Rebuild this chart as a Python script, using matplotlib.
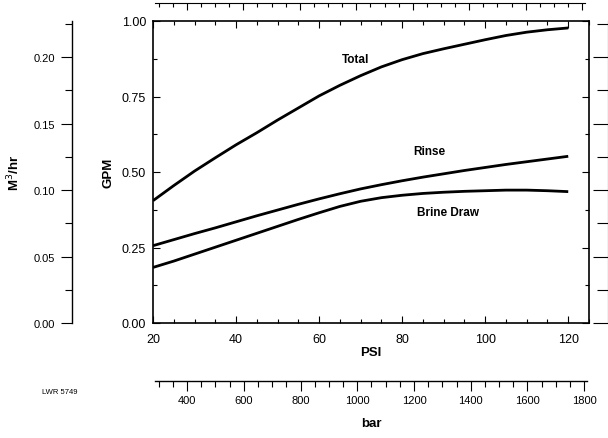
import matplotlib
matplotlib.use("Agg")
import matplotlib.pyplot as plt
from matplotlib.ticker import MultipleLocator, FormatStrFormatter, NullFormatter

plt.rcParams['font.family'] = ['Liberation Sans', 'DejaVu Sans']

psi = [20, 25, 30, 35, 40, 45, 50, 55, 60, 65, 70, 75, 80, 85, 90, 95, 100, 105, 110, 115, 120]
total = [0.405, 0.455, 0.503, 0.547, 0.590, 0.630, 0.672, 0.712, 0.752, 0.787, 0.819,
         0.848, 0.872, 0.892, 0.908, 0.923, 0.938, 0.952, 0.963, 0.971, 0.977]
rinse = [0.256, 0.276, 0.296, 0.315, 0.335, 0.355, 0.374, 0.393, 0.411, 0.428, 0.444,
         0.458, 0.471, 0.483, 0.494, 0.505, 0.515, 0.525, 0.534, 0.543, 0.552]
brine = [0.184, 0.205, 0.228, 0.251, 0.274, 0.297, 0.320, 0.343, 0.365, 0.386, 0.403,
         0.415, 0.423, 0.429, 0.433, 0.436, 0.438, 0.440, 0.440, 0.438, 0.435]
series_labels = ["Total", "Rinse", "Brine Draw"]
label_pos = [(68.8, 0.874), (86.6, 0.570), (91.0, 0.367)]

W, H = 608, 439
fig = plt.figure(figsize=(W / 100, H / 100), dpi=100)

def fx(px):
    return px / W

def fy(py):
    return 1 - py / H

top_px, bot_px = 22, 324
main_l, main_r = 153, 589
ax = fig.add_axes([fx(main_l), fy(bot_px), fx(main_r - main_l), fy(top_px) - fy(bot_px)])
for y in (total, rinse, brine):
    ax.plot(psi, y, color='black', lw=2.0, solid_capstyle='butt', solid_joinstyle='round')
for txt, (x, y) in zip(series_labels, label_pos):
    ax.text(x, y, txt, fontsize=8.5, fontweight='bold', ha='center', va='center')
ax.set_xlim(20, 125)
ax.set_ylim(0, 1.0)
ax.xaxis.set_major_locator(MultipleLocator(20))
ax.xaxis.set_minor_locator(MultipleLocator(5))
ax.yaxis.set_major_locator(MultipleLocator(0.25))
ax.yaxis.set_minor_locator(MultipleLocator(0.125))
ax.yaxis.set_major_formatter(FormatStrFormatter('%.2f'))
ax.tick_params(which='both', direction='in', top=True, right=True, labelsize=9, width=0.8)
ax.tick_params(axis='x', which='major', pad=7)
ax.tick_params(axis='y', which='major', pad=5)
ax.tick_params(which='major', length=5)
ax.tick_params(which='minor', length=3)
for s in ax.spines.values():
    s.set_linewidth(1.2)
ax.set_xlabel('PSI', fontsize=9.5, fontweight='bold', labelpad=1)
ax.set_ylabel('GPM', fontsize=9.5, fontweight='bold', labelpad=5)

m3_per_gpm = 0.22712

# left m3/hr axis
axl = fig.add_axes([fx(72), fy(bot_px), 0.01, fy(top_px) - fy(bot_px)])
axl.set_ylim(0, m3_per_gpm)
axl.set_xticks([])
for k in ('top', 'right', 'bottom'):
    axl.spines[k].set_visible(False)
axl.patch.set_visible(False)
axl.yaxis.set_major_locator(MultipleLocator(0.05))
axl.yaxis.set_minor_locator(MultipleLocator(0.025))
axl.yaxis.set_major_formatter(FormatStrFormatter('%.2f'))
axl.tick_params(which='both', direction='out', labelsize=8, width=0.8)
axl.tick_params(which='major', length=8, pad=4)
axl.tick_params(which='minor', length=5)
axl.spines['left'].set_linewidth(1.0)
axl.set_ylabel('M$^3$/hr', fontsize=9.5, fontweight='bold', labelpad=8)

# right mirror axis (ticks only)
axr = fig.add_axes([fx(560), fy(bot_px), fx(608 - 560), fy(top_px) - fy(bot_px)])
axr.set_ylim(0, m3_per_gpm)
axr.set_xticks([])
for k in ('top', 'left', 'bottom'):
    axr.spines[k].set_visible(False)
axr.patch.set_visible(False)
axr.yaxis.tick_right()
axr.yaxis.set_major_locator(MultipleLocator(0.05))
axr.yaxis.set_minor_locator(MultipleLocator(0.025))
axr.yaxis.set_major_formatter(NullFormatter())
axr.tick_params(which='both', direction='in', width=0.8)
axr.tick_params(which='major', length=11)
axr.tick_params(which='minor', length=8)

# bottom bar axis
bar_l, bar_r = 155, 587
axb = fig.add_axes([fx(bar_l), fy(382), fx(bar_r - bar_l), 0.01])
axb.set_xlim(287, 1810)
axb.set_yticks([])
for k in ('top', 'left', 'right'):
    axb.spines[k].set_visible(False)
axb.patch.set_visible(False)
axb.xaxis.set_major_locator(MultipleLocator(200))
axb.xaxis.set_minor_locator(MultipleLocator(50))
axb.tick_params(which='both', direction='out', labelsize=8, width=0.8)
axb.tick_params(which='major', length=7, pad=3)
axb.tick_params(which='minor', length=4)
axb.spines['bottom'].set_linewidth(1.0)
axb.set_xlabel('bar', fontsize=9.5, fontweight='bold', labelpad=9)

# top mirror axis (ticks only)
axt = fig.add_axes([fx(bar_l), fy(14), fx(bar_r - bar_l - 2), fy(4) - fy(14)])
axt.set_xlim(287, 1810)
axt.set_yticks([])
for k in ('bottom', 'left', 'right'):
    axt.spines[k].set_visible(False)
axt.patch.set_visible(False)
axt.xaxis.tick_top()
axt.xaxis.set_major_locator(MultipleLocator(200))
axt.xaxis.set_minor_locator(MultipleLocator(50))
axt.xaxis.set_major_formatter(NullFormatter())
axt.tick_params(which='both', direction='in', width=0.8)
axt.tick_params(which='major', length=5)
axt.tick_params(which='minor', length=3)
axt.spines['top'].set_linewidth(0.8)

fig.text(fx(42), fy(393), 'LWR 5749', fontsize=5.5, ha='left', va='center')

fig.savefig('out.png', dpi=100)
